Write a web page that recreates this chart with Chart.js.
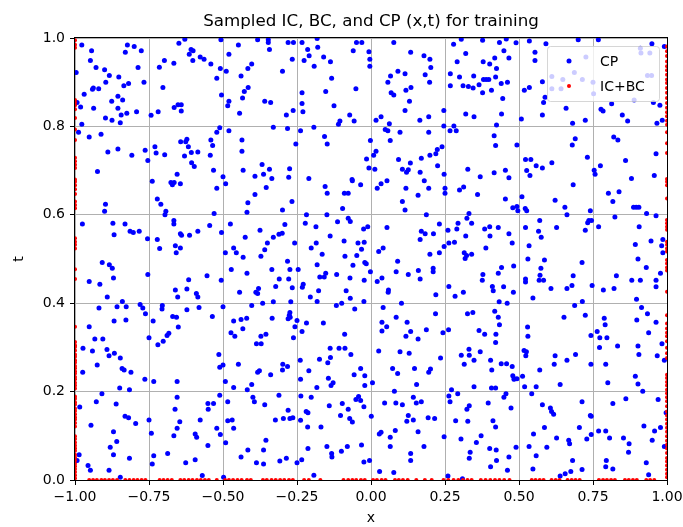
<!DOCTYPE html>
<html>
<head>
<meta charset="utf-8">
<script src="https://cdn.jsdelivr.net/npm/chart.js@4.4.0/dist/chart.umd.min.js"></script>
<style>
  html, body { margin: 0; padding: 0; background: #fff; }
  canvas { display: block; }
</style>
</head>
<body>
<canvas id="myChart" width="683" height="527"></canvas>
<script>

// collocation points (x, t)
const cpPoints = [
  [-0.977,0.984],[-0.944,0.971],[-0.948,0.949],[-0.929,0.933],[-0.900,0.928],[-0.884,0.915],[-0.896,0.900],
  [-0.938,0.887],[-0.941,0.884],[-0.920,0.885],[-0.969,0.873],[-0.993,0.854],[-0.981,0.844],[-0.937,0.841],
  [-0.876,0.857],[-0.855,0.868],[-0.839,0.860],[-0.855,0.841],[-0.844,0.826],[-0.897,0.819],[-0.875,0.814],
  [-0.847,0.808],[-0.825,0.830],[-0.792,0.833],[-0.835,0.892],[-0.819,0.897],[-0.852,0.912],[-0.830,0.968],
  [-0.823,0.984],[-0.800,0.981],[-0.776,0.971],[-0.787,0.933],[-0.767,0.900],[-0.743,0.825],[-0.719,0.833],
  [-0.665,0.843],[-0.652,0.849],[-0.641,0.849],[-0.641,0.835],[-0.703,0.888],[-0.715,0.934],[-0.698,0.949],
  [-0.666,0.943],[-0.649,0.988],[-0.629,0.997],[-0.614,0.963],[-0.608,0.974],[-0.601,0.971],[-0.602,0.949],
  [-0.577,0.957],[-0.564,0.952],[-0.541,0.941],[-0.521,0.909],[-0.996,0.922],[-0.988,0.787],[-0.977,0.805],
  [-0.952,0.776],[-0.912,0.782],[-0.889,0.742],[-0.855,0.749],[-0.808,0.735],[-0.763,0.746],[-0.754,0.723],
  [-0.730,0.754],[-0.726,0.740],[-0.697,0.736],[-0.643,0.765],[-0.626,0.765],[-0.622,0.771],[-0.617,0.754],
  [-0.607,0.741],[-0.585,0.742],[-0.630,0.733],[-0.606,0.718],[-0.597,0.709],[-0.541,0.769],[-0.535,0.757],
  [-0.543,0.735],[-0.521,0.787],[-0.532,0.701],[-0.655,0.692],[-0.924,0.698],

  [-0.507,0.996],[-0.448,0.984],[-0.383,0.996],[-0.347,0.996],[-0.347,0.990],[-0.343,0.974],[-0.280,0.990],
  [-0.262,0.990],[-0.233,0.990],[-0.182,0.999],[-0.049,0.990],[-0.031,0.990],[-0.480,0.963],[-0.509,0.931],
  [-0.489,0.925],[-0.439,0.914],[-0.416,0.931],[-0.403,0.941],[-0.299,0.925],[-0.266,0.952],[-0.214,0.974],
  [-0.209,0.960],[-0.226,0.949],[-0.192,0.936],[-0.180,0.979],[-0.160,0.957],[-0.137,0.946],[-0.133,0.909],
  [-0.060,0.971],[-0.051,0.885],[-0.153,0.879],[-0.233,0.876],[-0.415,0.888],[-0.428,0.879],[-0.434,0.864],
  [-0.505,0.871],[-0.480,0.857],[-0.484,0.847],[-0.444,0.830],[-0.359,0.857],[-0.339,0.854],[-0.286,0.826],
  [-0.263,0.836],[-0.233,0.852],[-0.230,0.833],[-0.125,0.847],[-0.072,0.826],[-0.057,0.812],[-0.105,0.812],
  [-0.110,0.805],[-0.511,0.797],[-0.480,0.790],[-0.330,0.798],[-0.282,0.795],[-0.238,0.790],[-0.193,0.798],
  [-0.436,0.769],[-0.436,0.744],[-0.254,0.760],[-0.157,0.777],[-0.148,0.760],[-0.432,0.701],[-0.368,0.714],
  [-0.343,0.703],[-0.363,0.692],[-0.335,0.682],[-0.392,0.687],[-0.275,0.704],[-0.278,0.685],[-0.210,0.682],
  [-0.064,0.680],[-0.500,0.686],

  [0.077,0.990],[-0.007,0.969],[-0.004,0.952],[-0.004,0.936],[0.134,0.968],[0.179,0.960],[0.199,0.952],
  [0.202,0.933],[0.183,0.917],[0.198,0.900],[0.115,0.919],[0.091,0.925],[0.066,0.914],[0.057,0.900],
  [0.135,0.888],[0.118,0.882],[0.068,0.876],[0.077,0.871],[0.130,0.857],[0.115,0.836],[0.034,0.822],
  [0.017,0.814],[0.062,0.806],[0.048,0.793],[0.057,0.790],[0.098,0.787],[0.165,0.814],[0.195,0.822],
  [0.195,0.787],[0.246,0.836],[0.246,0.801],[0.267,0.790],[0.280,0.801],[0.288,0.790],[0.279,0.986],
  [0.305,0.997],[0.320,0.965],[0.291,0.946],[0.377,0.995],[0.434,0.990],[0.457,0.998],[0.449,0.971],
  [0.466,0.955],[0.379,0.946],[0.401,0.941],[0.418,0.955],[0.424,0.931],[0.268,0.919],[0.299,0.912],
  [0.268,0.892],[0.311,0.892],[0.329,0.890],[0.345,0.887],[0.347,0.914],[0.365,0.894],[0.380,0.906],
  [0.389,0.906],[0.398,0.906],[0.421,0.912],[0.440,0.897],[0.461,0.900],[0.407,0.882],[0.377,0.876],
  [0.445,0.863],[0.441,0.828],[0.424,0.803],[0.320,0.828],[0.348,0.822],[0.416,0.779],[0.421,0.757],
  [-0.002,0.768],[0.065,0.768],[0.017,0.744],[0.009,0.735],[-0.015,0.726],[-0.007,0.706],[0.013,0.703],
  [0.093,0.725],[0.106,0.703],[0.120,0.696],[0.126,0.702],[0.133,0.717],[0.170,0.728],[0.199,0.735],
  [0.219,0.738],[0.224,0.748],[0.240,0.754],[0.166,0.696],[0.225,0.711],[0.247,0.692],[0.327,0.703],
  [0.369,0.686],[0.416,0.695],[0.454,0.701],[0.466,0.684],

  [0.490,0.989],[0.535,0.993],[0.591,0.987],[0.700,0.996],[0.768,0.996],[0.949,0.987],[0.991,0.981],
  [0.554,0.968],[0.554,0.949],[0.579,0.901],[0.518,0.882],[0.535,0.888],[0.583,0.854],[0.588,0.866],
  [0.659,0.841],[0.579,0.826],[0.508,0.817],[0.681,0.807],[0.724,0.814],[0.777,0.839],[0.784,0.835],
  [0.813,0.851],[0.849,0.826],[0.867,0.812],[0.966,0.807],[0.984,0.814],[0.954,0.854],[0.976,0.848],
  [0.726,0.957],[0.687,0.922],[0.611,0.913],[0.648,0.906],[0.611,0.885],[0.642,0.885],[0.714,0.906],
  [0.750,0.900],[0.752,0.874],[0.910,0.977],[0.912,0.966],[0.942,0.966],[0.934,0.915],[0.948,0.915],
  [0.889,0.860],[0.493,0.758],[0.690,0.772],[0.680,0.758],[0.820,0.776],[0.834,0.769],[0.522,0.725],
  [0.540,0.725],[0.526,0.700],[0.537,0.689],[0.558,0.711],[0.579,0.706],[0.611,0.718],[0.731,0.730],
  [0.775,0.711],[0.754,0.701],[0.757,0.692],[0.860,0.723],[0.963,0.738],[0.957,0.689],[0.880,0.682],

  [-0.739,0.676],[-0.676,0.673],[-0.671,0.668],[-0.665,0.673],[-0.644,0.670],[-0.521,0.660],[-0.897,0.624],
  [-0.900,0.608],[-0.722,0.636],[-0.710,0.624],[-0.693,0.608],[-0.696,0.600],[-0.530,0.603],[-0.975,0.579],
  [-0.872,0.581],[-0.868,0.555],[-0.831,0.579],[-0.814,0.563],[-0.803,0.560],[-0.783,0.563],[-0.755,0.546],
  [-0.722,0.544],[-0.714,0.524],[-0.666,0.587],[-0.666,0.579],[-0.644,0.557],[-0.640,0.554],[-0.613,0.554],
  [-0.585,0.563],[-0.545,0.576],[-0.661,0.530],[-0.644,0.525],[-0.658,0.514],[-0.908,0.492],[-0.884,0.487],
  [-0.874,0.479],[-0.870,0.457],[-0.754,0.465],[-0.952,0.449],[-0.916,0.443],[-0.891,0.414],[-0.840,0.404],
  [-0.858,0.392],[-0.827,0.392],[-0.919,0.389],[-0.780,0.397],[-0.771,0.389],[-0.762,0.376],[-0.705,0.395],
  [-0.706,0.387],[-0.670,0.370],[-0.657,0.368],[-0.622,0.385],[-0.581,0.390],[-0.536,0.370],[-0.868,0.360],
  [-0.828,0.362],[-0.736,0.360],[-0.651,0.346],[-0.616,0.453],[-0.622,0.432],[-0.590,0.422],[-0.585,0.414],
  [-0.661,0.430],[-0.653,0.414],[-0.554,0.462],[-0.952,0.347],

  [-0.491,0.670],[-0.354,0.662],[-0.392,0.646],[-0.416,0.627],[-0.419,0.606],[-0.267,0.630],[-0.299,0.611],
  [-0.155,0.664],[-0.148,0.649],[-0.090,0.649],[-0.077,0.649],[-0.035,0.668],[-0.063,0.677],[-0.096,0.614],
  [-0.218,0.600],[-0.149,0.600],[-0.077,0.592],[-0.070,0.585],[-0.113,0.584],[-0.222,0.581],[-0.186,0.573],
  [-0.475,0.579],[-0.505,0.560],[-0.375,0.565],[-0.291,0.578],[-0.300,0.558],[-0.311,0.556],[-0.330,0.549],
  [-0.350,0.536],[-0.359,0.521],[-0.425,0.549],[-0.258,0.536],[-0.202,0.525],[-0.185,0.536],[-0.138,0.552],
  [-0.091,0.541],[-0.044,0.536],[-0.023,0.538],[-0.025,0.568],[-0.032,0.522],[-0.048,0.508],[-0.021,0.492],
  [-0.492,0.514],[-0.464,0.525],[-0.455,0.514],[-0.432,0.504],[-0.372,0.506],[-0.282,0.495],[-0.165,0.511],
  [-0.088,0.506],[-0.061,0.486],[-0.182,0.487],[-0.472,0.476],[-0.419,0.468],[-0.335,0.476],[-0.274,0.476],
  [-0.246,0.476],[-0.153,0.468],[-0.158,0.459],[-0.173,0.459],[-0.116,0.465],[-0.071,0.457],[-0.023,0.452],
  [-0.506,0.452],[-0.310,0.455],[-0.278,0.455],[-0.229,0.443],[-0.232,0.436],[-0.266,0.435],[-0.322,0.438],
  [-0.380,0.433],[-0.389,0.425],[-0.383,0.422],[-0.444,0.425],[-0.205,0.414],[-0.177,0.428],[-0.084,0.428],
  [-0.070,0.411],[-0.024,0.404],[-0.117,0.395],[-0.099,0.400],[-0.055,0.387],[-0.182,0.404],[-0.271,0.403],
  [-0.330,0.403],[-0.366,0.400],[-0.403,0.395],[-0.500,0.392],[-0.334,0.366],[-0.274,0.379],[-0.276,0.373],
  [-0.273,0.368],[-0.280,0.365],[-0.250,0.361],[-0.257,0.347],[-0.218,0.355],[-0.161,0.355],[-0.420,0.366],
  [-0.439,0.363],[-0.464,0.360],

  [0.021,0.660],[0.034,0.670],[0.054,0.677],[0.118,0.660],[0.159,0.644],[0.180,0.677],[0.195,0.660],
  [0.250,0.660],[0.250,0.649],[0.299,0.656],[0.313,0.663],[0.360,0.646],[0.454,0.636],[0.479,0.616],
  [0.106,0.630],[0.115,0.611],[0.187,0.600],[0.331,0.603],[0.324,0.592],[0.340,0.581],[-0.011,0.573],
  [0.054,0.571],[0.170,0.563],[0.183,0.557],[0.166,0.544],[0.211,0.557],[0.231,0.579],[0.260,0.565],
  [0.294,0.581],[0.290,0.568],[0.320,0.552],[0.384,0.568],[0.401,0.573],[0.402,0.552],[0.430,0.571],
  [0.466,0.557],[0.477,0.536],[0.388,0.525],[0.263,0.536],[0.282,0.538],[0.247,0.528],[0.231,0.514],
  [0.199,0.511],[0.026,0.517],[0.041,0.525],[0.090,0.495],[0.085,0.471],[0.126,0.465],[0.160,0.474],
  [0.166,0.455],[0.210,0.479],[0.210,0.471],[0.315,0.514],[0.323,0.508],[0.318,0.501],[0.340,0.511],
  [-0.016,0.489],[-0.002,0.471],[0.021,0.449],[0.037,0.457],[0.059,0.430],[0.058,0.425],[0.263,0.438],
  [0.284,0.416],[0.312,0.425],[0.378,0.465],[0.376,0.452],[0.410,0.438],[0.413,0.428],[0.430,0.468],
  [0.441,0.481],[0.448,0.437],[0.482,0.484],[0.481,0.425],[0.219,0.419],[0.103,0.400],[0.041,0.390],
  [0.085,0.368],[0.122,0.357],[0.218,0.376],[0.326,0.376],[0.344,0.379],[0.418,0.382],[0.430,0.368],
  [0.434,0.351],[0.433,0.403],[0.460,0.400],[0.037,0.357],[0.053,0.347],

  [0.683,0.668],[0.510,0.641],[0.493,0.619],[0.496,0.609],[0.521,0.614],[0.526,0.609],[0.622,0.633],
  [0.655,0.617],[0.662,0.600],[0.741,0.609],[0.736,0.587],[0.732,0.582],[0.745,0.587],[0.802,0.649],
  [0.838,0.652],[0.817,0.630],[0.887,0.617],[0.896,0.617],[0.905,0.617],[0.931,0.603],[0.963,0.598],
  [0.824,0.595],[0.522,0.571],[0.570,0.587],[0.566,0.563],[0.575,0.549],[0.627,0.571],[0.724,0.565],
  [0.769,0.573],[0.906,0.573],[0.946,0.541],[0.986,0.544],[0.982,0.530],[0.986,0.514],[0.893,0.533],
  [0.534,0.530],[0.530,0.500],[0.586,0.498],[0.713,0.492],[0.902,0.500],[0.930,0.481],[0.978,0.468],
  [0.574,0.479],[0.571,0.463],[0.568,0.452],[0.583,0.452],[0.522,0.455],[0.522,0.448],[0.683,0.462],
  [0.679,0.440],[0.662,0.433],[0.608,0.433],[0.747,0.440],[0.829,0.462],[0.785,0.430],[0.821,0.433],
  [0.881,0.452],[0.910,0.452],[0.963,0.452],[0.963,0.437],[0.547,0.412],[0.714,0.404],[0.688,0.395],
  [0.897,0.409],[0.914,0.390],[0.934,0.376],[0.652,0.368],[0.724,0.373],[0.788,0.366],[0.791,0.351],
  [0.898,0.362],[0.963,0.357],[0.529,0.346],

  [-0.933,0.319],[-0.906,0.319],[-0.973,0.298],[-0.941,0.292],[-0.892,0.295],[-0.867,0.287],[-0.885,0.281],
  [-0.847,0.276],[-0.925,0.260],[-0.974,0.244],[-0.841,0.252],[-0.834,0.249],[-0.811,0.244],[-0.764,0.228],
  [-0.734,0.223],[-0.655,0.223],[-0.849,0.208],[-0.816,0.204],[-0.909,0.195],[-0.750,0.322],[-0.720,0.306],
  [-0.702,0.314],[-0.689,0.327],[-0.683,0.332],[-0.984,0.165],[-0.928,0.177],[-0.861,0.172],[-0.831,0.144],
  [-0.819,0.141],[-0.795,0.128],[-0.946,0.124],[-0.870,0.109],[-0.859,0.087],[-0.881,0.074],[-0.870,0.057],
  [-0.816,0.049],[-0.986,0.057],[-0.993,0.044],[-0.956,0.033],[-0.948,0.022],[-0.885,0.022],[-0.847,0.006],
  [-0.750,0.136],[-0.742,0.106],[-0.734,0.055],[-0.739,0.036],[-0.687,0.060],[-0.666,0.100],[-0.655,0.117],
  [-0.646,0.132],[-0.662,0.160],[-0.655,0.187],[-0.577,0.136],[-0.594,0.104],[-0.589,0.097],[-0.551,0.173],
  [-0.532,0.173],[-0.550,0.160],[-0.551,0.078],[-0.521,0.117],[-0.626,0.039],[-0.594,0.046],[-0.570,0.010],

  [-0.473,0.333],[-0.460,0.325],[-0.433,0.342],[-0.372,0.325],[-0.355,0.330],[-0.387,0.308],[-0.371,0.308],
  [-0.262,0.322],[-0.233,0.336],[-0.514,0.284],[-0.511,0.255],[-0.500,0.260],[-0.448,0.262],[-0.383,0.244],
  [-0.377,0.247],[-0.339,0.238],[-0.298,0.262],[-0.282,0.257],[-0.299,0.249],[-0.492,0.223],[-0.464,0.209],
  [-0.418,0.204],[-0.403,0.216],[-0.511,0.192],[-0.399,0.187],[-0.394,0.177],[-0.484,0.177],[-0.359,0.170],
  [-0.311,0.192],[-0.280,0.158],[-0.323,0.136],[-0.296,0.139],[-0.274,0.139],[-0.264,0.141],[-0.238,0.135],
  [-0.219,0.155],[-0.213,0.152],[-0.214,0.120],[-0.169,0.120],[-0.237,0.190],[-0.202,0.187],[-0.183,0.209],
  [-0.238,0.228],[-0.239,0.271],[-0.210,0.247],[-0.174,0.273],[-0.146,0.265],[-0.137,0.277],[-0.138,0.298],
  [-0.108,0.298],[-0.088,0.298],[-0.089,0.330],[-0.068,0.284],[-0.144,0.230],[-0.135,0.214],[-0.128,0.220],
  [-0.057,0.238],[-0.035,0.252],[-0.021,0.236],[-0.021,0.214],[-0.141,0.168],[-0.103,0.146],[-0.097,0.173],
  [-0.077,0.160],[-0.072,0.139],[-0.063,0.131],[-0.051,0.182],[-0.042,0.189],[-0.035,0.180],[-0.024,0.166],
  [-0.484,0.134],[-0.469,0.136],[-0.464,0.117],[-0.509,0.103],[-0.491,0.084],[-0.439,0.052],[-0.416,0.068],
  [-0.363,0.068],[-0.355,0.090],[-0.387,0.039],[-0.363,0.036],[-0.308,0.043],[-0.286,0.049],[-0.250,0.039],
  [-0.234,0.046],[-0.213,0.071],[-0.149,0.076],[-0.133,0.060],[-0.132,0.052],[-0.100,0.065],[-0.080,0.076],
  [-0.032,0.079],[-0.024,0.041],[-0.193,0.011],[-0.498,0.006],

  [0.037,0.337],[0.118,0.325],[0.134,0.336],[0.159,0.319],[0.187,0.340],[0.243,0.333],[0.262,0.340],
  [0.365,0.338],[0.384,0.330],[0.422,0.330],[0.421,0.311],[0.026,0.292],[0.098,0.290],[0.129,0.287],
  [0.235,0.276],[0.073,0.252],[0.090,0.241],[0.147,0.252],[0.195,0.244],[0.201,0.251],[0.154,0.216],
  [0.005,0.220],[0.079,0.201],[0.046,0.174],[0.084,0.174],[0.106,0.170],[0.143,0.187],[0.153,0.174],
  [0.170,0.177],[0.126,0.146],[0.121,0.133],[0.143,0.136],[0.193,0.141],[0.215,0.139],[0.272,0.204],
  [0.263,0.190],[0.293,0.195],[0.267,0.177],[0.305,0.282],[0.331,0.296],[0.332,0.282],[0.315,0.262],
  [0.348,0.271],[0.369,0.290],[0.404,0.271],[0.408,0.249],[0.440,0.263],[0.458,0.263],[0.477,0.257],
  [0.479,0.236],[0.483,0.228],[0.348,0.211],[0.407,0.208],[0.421,0.208],[0.324,0.160],[0.332,0.168],
  [0.396,0.174],[0.456,0.195],[0.449,0.187],[0.473,0.163],[0.001,0.144],[0.286,0.134],[0.327,0.133],
  [0.412,0.134],[0.421,0.120],[0.028,0.104],[0.034,0.108],[0.065,0.097],[0.082,0.112],[0.159,0.109],
  [0.065,0.076],[0.179,0.076],[0.134,0.060],[0.134,0.044],[0.247,0.098],[0.304,0.093],[0.372,0.100],
  [0.356,0.085],[0.335,0.063],[0.332,0.049],[0.401,0.071],[0.423,0.068],[0.466,0.052],[0.424,0.044],
  [0.404,0.030],[0.461,0.022],[-0.005,0.044],[0.029,0.019],[0.077,0.017],[0.260,0.009],[0.309,0.003],

  [0.530,0.325],[0.743,0.327],[0.764,0.336],[0.773,0.322],[0.797,0.322],[0.938,0.333],[0.983,0.308],
  [0.991,0.271],[0.967,0.281],[0.905,0.284],[0.902,0.303],[0.833,0.303],[0.772,0.300],[0.517,0.293],
  [0.525,0.290],[0.523,0.281],[0.622,0.281],[0.619,0.262],[0.662,0.271],[0.691,0.284],[0.743,0.262],
  [0.793,0.262],[0.800,0.220],[0.893,0.235],[0.902,0.217],[0.918,0.201],[0.570,0.249],[0.484,0.229],
  [0.493,0.229],[0.512,0.235],[0.519,0.211],[0.558,0.211],[0.639,0.216],[0.543,0.195],[0.579,0.170],
  [0.606,0.163],[0.610,0.155],[0.617,0.149],[0.713,0.177],[0.741,0.146],[0.744,0.144],[0.817,0.173],
  [0.861,0.184],[0.970,0.182],[0.586,0.119],[0.549,0.104],[0.627,0.095],[0.668,0.090],[0.671,0.082],
  [0.704,0.119],[0.729,0.093],[0.744,0.103],[0.769,0.111],[0.793,0.111],[0.806,0.095],[0.853,0.095],
  [0.872,0.082],[0.870,0.063],[0.922,0.122],[0.958,0.111],[0.978,0.119],[0.950,0.090],[0.991,0.076],
  [0.997,0.152],[0.490,0.074],[0.534,0.076],[0.594,0.074],[0.558,0.055],[0.681,0.044],[0.713,0.024],
  [0.547,0.025],[0.639,0.009],[0.656,0.014],[0.675,0.019],[0.795,0.044],[0.793,0.030],[0.817,0.025],
  [0.930,0.039],[0.938,0.012]
];

// boundary condition samples at x = -1 and x = 1 (t values)
const leftEdgeT = [0.995, 0.985, 0.978, 0.860, 0.854, 0.848, 0.839, 0.819, 0.793, 0.769, 0.729, 0.721,
  0.713, 0.706, 0.680, 0.675, 0.667, 0.658, 0.647, 0.630, 0.622, 0.615, 0.547, 0.539, 0.532, 0.524,
  0.477, 0.455, 0.347, 0.312, 0.305, 0.301, 0.293, 0.284, 0.279, 0.271, 0.266, 0.258, 0.253, 0.246,
  0.241, 0.233, 0.228, 0.220, 0.214, 0.207, 0.189, 0.184, 0.176, 0.171, 0.162, 0.156, 0.149, 0.142,
  0.137, 0.129, 0.121, 0.099, 0.093, 0.085, 0.078, 0.072, 0.066, 0.057, 0.051, 0.044, 0.037, 0.031,
  0.025, 0.018, 0.011, 0.004];
const rightEdgeT = [0.981, 0.970, 0.959, 0.947, 0.936, 0.927, 0.917, 0.906, 0.898, 0.887, 0.876, 0.864,
  0.853, 0.842, 0.832, 0.823, 0.813, 0.804, 0.787, 0.762, 0.740, 0.681, 0.675, 0.667, 0.637, 0.588,
  0.581, 0.573, 0.566, 0.539, 0.532, 0.524, 0.517, 0.498, 0.490, 0.481, 0.474, 0.426, 0.373, 0.354,
  0.343, 0.333, 0.325, 0.314, 0.299, 0.287, 0.276, 0.238, 0.231, 0.222, 0.214, 0.204, 0.196, 0.187,
  0.178, 0.167, 0.155, 0.146, 0.137, 0.127, 0.118, 0.109, 0.099, 0.089, 0.080, 0.071, 0.061, 0.050,
  0.042, 0.033, 0.023, 0.014, 0.006];
// initial condition samples at t = 0 (x values)
const initialX = [-0.952, -0.939, -0.926, -0.911, -0.899, -0.885, -0.872, -0.858, -0.830, -0.816,
  -0.802, -0.789, -0.775, -0.762, -0.714, -0.701, -0.687, -0.673, -0.644, -0.631, -0.616, -0.603,
  -0.588, -0.575, -0.561, -0.548, -0.521, -0.493, -0.480, -0.466, -0.451, -0.437, -0.419, -0.406,
  -0.365, -0.352, -0.336, -0.322, -0.307, -0.293, -0.277, -0.264, -0.226, -0.210, -0.171, -0.093,
  -0.077, -0.063, -0.050, -0.034, -0.021, 0.007, 0.020, 0.036, 0.049, 0.081, 0.094, 0.108, 0.124,
  0.153, 0.182, 0.205, 0.245, 0.261, 0.279, 0.295, 0.311, 0.326, 0.340, 0.371, 0.387, 0.403, 0.419,
  0.434, 0.450, 0.468, 0.543, 0.556, 0.570, 0.583, 0.610, 0.624, 0.637, 0.664, 0.678, 0.691, 0.705,
  0.770, 0.784, 0.797, 0.811, 0.824, 0.858, 0.871, 0.885, 0.898, 0.930, 0.943, 0.957];

const xTicks = [-1, -0.75, -0.5, -0.25, 0, 0.25, 0.5, 0.75, 1];
const tTicks = [0, 0.2, 0.4, 0.6, 0.8, 1];

const titleText = 'Sampled IC, BC, and CP (x,t) for training';
const FONT = "'DejaVu Sans', sans-serif";

const cpData = cpPoints.map(p => ({x: p[0], y: p[1]}));
const icbcData = []
  .concat(initialX.map(x => ({x: x, y: 0})))
  .concat(leftEdgeT.map(t => ({x: -1, y: t})))
  .concat(rightEdgeT.map(t => ({x: 1, y: t})));

function minusFmt(v, d) {
  const s = Math.abs(v).toFixed(d);
  return v < 0 ? '\u2212' + s : s;
}

// title, axes frame and matplotlib style legend
const decorations = {
  id: 'decorations',
  afterDatasetsDraw(chart) {
    const {ctx, chartArea: a} = chart;
    ctx.save();
    ctx.strokeStyle = '#000';
    ctx.lineWidth = 1;
    ctx.strokeRect(a.left - 0.5, a.top - 0.5, a.right - a.left + 1, a.bottom - a.top + 1);

    ctx.fillStyle = '#000';
    ctx.font = '16.7px ' + FONT;
    ctx.textAlign = 'center';
    ctx.textBaseline = 'alphabetic';
    ctx.fillText(titleText, (a.left + a.right) / 2, a.top - 12);
    ctx.restore();
  },
  afterDraw(chart) {
    const {ctx, chartArea: a} = chart;
    const bw = 112, bh = 55;
    const bx = a.right - 8 - bw, by = a.top + 8;
    ctx.save();
    ctx.beginPath();
    ctx.roundRect(bx + 0.5, by + 0.5, bw, bh, 3);
    ctx.fillStyle = 'rgba(255,255,255,0.8)';
    ctx.fill();
    ctx.strokeStyle = 'rgba(204,204,204,0.8)';
    ctx.lineWidth = 1;
    ctx.stroke();

    const items = [
      {label: 'CP', color: '#0000ff', r: 2.5},
      {label: 'IC+BC', color: '#ff0000', r: 2}
    ];
    ctx.font = '14px ' + FONT;
    ctx.textAlign = 'left';
    ctx.textBaseline = 'alphabetic';
    items.forEach((it, i) => {
      const cy = by + 15 + i * 25;
      ctx.beginPath();
      ctx.arc(bx + 22, cy, it.r, 0, Math.PI * 2);
      ctx.fillStyle = it.color;
      ctx.fill();
      ctx.fillStyle = '#000';
      ctx.fillText(it.label, bx + 53, cy + 5);
    });
    ctx.restore();
  }
};

Chart.defaults.font.family = FONT;
Chart.defaults.font.size = 14;
Chart.defaults.color = '#000';

const ctx = document.getElementById('myChart').getContext('2d');
const myChart = new Chart(ctx, {
  type: 'scatter',
  data: {
    datasets: [{
      label: 'CP',
      data: cpData,
      backgroundColor: '#0000ff',
      borderWidth: 0,
      pointRadius: 2.5,
      clip: 0,
      order: 2
    }, {
      label: 'IC+BC',
      data: icbcData,
      backgroundColor: '#ff0000',
      borderWidth: 0,
      pointRadius: 2,
      clip: 0,
      order: 1
    }]
  },
  options: {
    responsive: false,
    devicePixelRatio: 1,
    animation: false,
    layout: { padding: { top: 38, right: 16, left: 0, bottom: 0 } },
    plugins: {
      legend: { display: false },
      tooltip: { enabled: false },
      title: { display: false }
    },
    scales: {
      x: {
        type: 'linear',
        min: -1, max: 1,
        afterBuildTicks: s => { s.ticks = xTicks.map(v => ({value: v})); },
        afterFit: s => { s.height = 47; s.paddingLeft = 0; s.paddingRight = 0; },
        ticks: {
          callback: v => minusFmt(v, 2),
          padding: 4,
          maxRotation: 0,
          font: { size: 14 }
        },
        grid: {
          color: '#b0b0b0',
          lineWidth: 1,
          tickLength: 5,
          tickColor: '#000'
        },
        border: { display: false },
        title: {
          display: true,
          text: 'x',
          padding: { top: 0, bottom: 0 },
          font: { size: 14 }
        }
      },
      y: {
        type: 'linear',
        min: 0, max: 1,
        afterBuildTicks: s => { s.ticks = tTicks.map(v => ({value: v})); },
        afterFit: s => { s.width = 75; s.paddingTop = 0; s.paddingBottom = 0; },
        ticks: {
          callback: v => v.toFixed(1),
          padding: 5,
          font: { size: 14 }
        },
        grid: {
          color: '#b0b0b0',
          lineWidth: 1,
          tickLength: 5,
          tickColor: '#000'
        },
        border: { display: false },
        title: {
          display: true,
          text: 't',
          padding: { top: 10.5, bottom: 0 },
          font: { size: 14 }
        }
      }
    }
  },
  plugins: [decorations]
});
</script>
</body>
</html>
